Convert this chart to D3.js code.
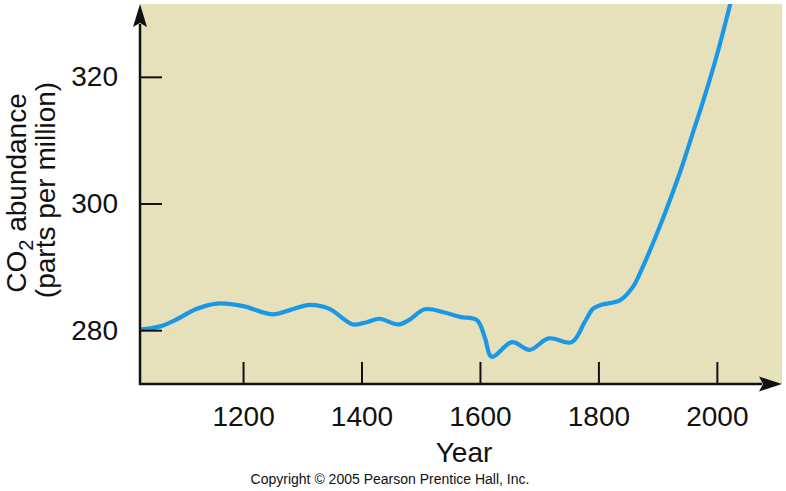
<!DOCTYPE html>
<html>
<head>
<meta charset="utf-8">
<script src="https://cdn.jsdelivr.net/npm/d3@7"></script>
<style>
  html, body { margin: 0; padding: 0; background: #ffffff; }
  svg { display: block; }
  text { font-family: "Liberation Sans", Arial, Helvetica, sans-serif; fill: #111; }
</style>
</head>
<body>
<svg id="chart" width="786" height="491"></svg>
<script>
// ---- data ----
const years = [1026, 1060, 1090, 1120, 1156, 1200, 1249, 1280, 1313, 1345, 1386, 1410, 1430, 1462, 1480, 1507, 1540, 1566, 1595, 1608, 1620, 1654, 1684, 1716, 1755, 1777, 1791, 1805, 1836, 1858, 1875, 1899, 1921, 1941, 1960, 1975, 2000, 2025];
const co2 = [280.1, 280.6, 281.8, 283.3, 284.2, 283.8, 282.5, 283.2, 284.0, 283.4, 280.9, 281.3, 281.8, 280.9, 281.6, 283.3, 282.8, 282.1, 281.6, 278.9, 275.8, 278.1, 276.9, 278.7, 278.1, 281.3, 283.4, 284.0, 284.7, 286.8, 290.0, 295.3, 300.6, 305.8, 311.3, 315.6, 323.4, 332.4];
const xTicks = [1200, 1400, 1600, 1800, 2000];
const yTicks = [280, 300, 320];
const xLabel = "Year";
const yLabelLine1 = ["CO", "2", " abundance"];
const yLabelLine2 = "(parts per million)";
const credit = "Copyright © 2005 Pearson Prentice Hall, Inc.";

// ---- layout ----
(function () {
const svg = d3.select("#chart");
const pL = 140, pR = 782, pT = 4, pB = 384;
const x = d3.scaleLinear().domain([1026, 2110]).range([pL, pR]);
const y = d3.scaleLinear().domain([271.5, 331.5]).range([pB, pT]);

svg.append("rect")
  .attr("x", pL).attr("y", pT)
  .attr("width", pR - pL).attr("height", pB - pT)
  .attr("fill", "#e6e1bb");

svg.append("clipPath").attr("id", "clip")
  .append("rect").attr("x", pL).attr("y", pT)
  .attr("width", pR - pL).attr("height", pB - pT);

const line = d3.line()
  .x((d, i) => x(years[i]))
  .y(d => y(d))
  .curve(d3.curveCatmullRom.alpha(0.5));

svg.append("path")
  .datum(co2)
  .attr("clip-path", "url(#clip)")
  .attr("fill", "none")
  .attr("stroke", "#1a98e6")
  .attr("stroke-width", 4.2)
  .attr("stroke-linejoin", "round")
  .attr("stroke-linecap", "round")
  .attr("d", line);

const xAxis = d3.axisBottom(x).tickValues(xTicks).tickFormat(d3.format("d"))
  .tickSizeInner(-22).tickSizeOuter(0).tickPadding(22);
const gx = svg.append("g").attr("transform", `translate(0,${pB})`).call(xAxis);
gx.select(".domain").remove();
gx.selectAll(".tick line").attr("stroke", "#111").attr("stroke-width", 2);
gx.selectAll(".tick text").attr("font-size", 28).attr("fill", "#111")
  .style("font-family", '"Liberation Sans", Arial, sans-serif');

const yAxis = d3.axisLeft(y).tickValues(yTicks).tickFormat(d3.format("d"))
  .tickSizeInner(-22).tickSizeOuter(0).tickPadding(22);
const gy = svg.append("g").attr("transform", `translate(${pL},0)`).call(yAxis);
gy.select(".domain").remove();
gy.selectAll(".tick line").attr("stroke", "#111").attr("stroke-width", 2);
gy.selectAll(".tick text").attr("font-size", 28).attr("fill", "#111")
  .style("font-family", '"Liberation Sans", Arial, sans-serif');

svg.append("line").attr("x1", pL).attr("y1", pB + 1).attr("x2", pL).attr("y2", pT + 20)
  .attr("stroke", "#111").attr("stroke-width", 2.5);
svg.append("path")
  .attr("d", `M${pL},${pT} L${pL - 7},${pT + 23} L${pL},${pT + 19} L${pL + 7},${pT + 23} Z`)
  .attr("fill", "#111");
svg.append("line").attr("x1", pL - 1).attr("y1", pB).attr("x2", pR - 20).attr("y2", pB)
  .attr("stroke", "#111").attr("stroke-width", 2.5);
svg.append("path")
  .attr("d", `M${pR},${pB} L${pR - 23},${pB - 7.5} L${pR - 19},${pB} L${pR - 23},${pB + 7.5} Z`)
  .attr("fill", "#111");

svg.append("text")
  .attr("x", 464).attr("y", 462)
  .attr("text-anchor", "middle")
  .attr("font-size", 28)
  .text(xLabel);

const yl = svg.append("text")
  .attr("transform", "translate(26,193) rotate(-90)")
  .attr("text-anchor", "middle")
  .attr("font-size", 28);
yl.append("tspan").text(yLabelLine1[0]);
yl.append("tspan").attr("font-size", 20).attr("dy", 7).text(yLabelLine1[1]);
yl.append("tspan").attr("dy", -7).text(yLabelLine1[2]);

svg.append("text")
  .attr("transform", "translate(55,190) rotate(-90)")
  .attr("text-anchor", "middle")
  .attr("font-size", 28)
  .text(yLabelLine2);

svg.append("text")
  .attr("x", 390).attr("y", 484)
  .attr("text-anchor", "middle")
  .attr("font-size", 14)
  .text(credit);
})();
</script>
</body>
</html>
